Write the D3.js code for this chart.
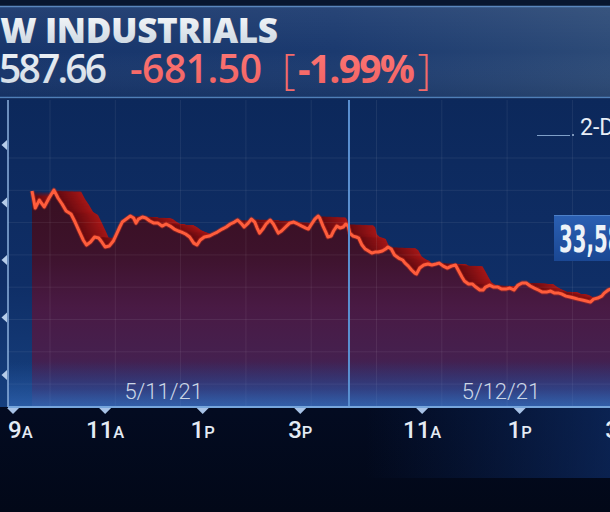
<!DOCTYPE html>
<html><head><meta charset="utf-8">
<script src="https://cdn.jsdelivr.net/npm/d3@7"></script>
<style>html,body{margin:0;padding:0;background:#030b22;overflow:hidden}</style>
</head><body>
<svg id="chart" width="610" height="512"></svg>
<script>
// ---------------- DATA ----------------
const title = "DOW INDUSTRIALS";
const lastValueText = "33,587.66";
const changeText = "-681.50";
const pctText = "-1.99%";
const rangeText = "2-DAY";
const dayLabels = ["5/11/21", "5/12/21"];
const dayLabelMinutes = [162, 187];           // minutes after the open where each date label sits
const tickDays  = [0, 0, 0, 0, 1, 1, 1];
const tickHours = [9, 11, 13, 15, 11, 13, 15];
const yTickValues = [35000, 34500, 34000, 33500, 33000];

// minutes after 9:30 open, index values
const day1Minutes = [0,4,9,15,21,27,32,37,42,48,53,58,63,67,72,77,82,85,90,95,100,104,108,111,116,121,125,128,131,136,140,145,150,155,160,165,170,175,180,184,189,194,199,203,207,212,218,223,228,234,239,244,249,253,258,261,266,270,274,277,280,284,288,293,297,301,303,307,312,317,322,327,332,337,340,344,348,352,354,358,362,364,368,371,375,379,383,386,389];
const day1Values  = [34600,34452,34521,34461,34539,34608,34539,34487,34426,34400,34330,34252,34174,34130,34156,34200,34191,34165,34113,34121,34165,34226,34287,34330,34356,34382,34365,34321,34356,34374,34365,34339,34321,34321,34295,34313,34295,34269,34252,34243,34226,34200,34147,34130,34174,34200,34208,34226,34243,34269,34287,34313,34330,34348,34313,34287,34321,34356,34330,34278,34234,34269,34313,34348,34313,34260,34234,34252,34287,34321,34330,34313,34295,34278,34269,34313,34356,34382,34365,34295,34234,34200,34208,34252,34295,34278,34287,34313,34295];
const day2Minutes = [1,5,9,12,16,20,24,28,32,36,41,45,48,52,56,61,66,69,73,77,81,83,87,92,97,102,107,111,116,121,126,131,135,139,142,147,152,156,161,165,168,173,178,183,188,193,198,203,208,213,218,223,228,233,238,243,248,253,258,262,267,272,277,282,287,292,297,301,306,311,314,319,322];
const day2Values  = [34234,34208,34200,34191,34130,34095,34078,34060,34069,34069,34078,34095,34113,34095,34043,34017,34000,33973,33947,33913,33886,33878,33930,33956,33965,33956,33965,33973,33947,33930,33947,33956,33904,33852,33817,33791,33791,33765,33739,33739,33765,33782,33765,33765,33747,33747,33756,33739,33782,33800,33800,33774,33756,33739,33721,33721,33730,33712,33712,33704,33686,33678,33669,33660,33652,33643,33634,33660,33669,33686,33712,33739,33747];

// ---------------- SETUP ----------------
const W = 610, H = 512;
const P = {left: 8, right: 610, top: 100, bottom: 407};
const svg = d3.select("#chart");
const defs = svg.append("defs");

const SESSION = 390;
const series = day1Minutes.map((m, i) => ({s: m, v: day1Values[i]}))
  .concat(day2Minutes.map((m, i) => ({s: SESSION + m, v: day2Values[i]})));

const x = d3.scaleLinear().domain([0, 2 * SESSION]).range([32, 32 + 2 * SESSION * 0.8128]);
const y = d3.scaleLinear().domain([33000, 35000]).range([375, 145]);

function lin(id, x1, y1, x2, y2, stops, units) {
  const g = defs.append("linearGradient").attr("id", id)
    .attr("x1", x1).attr("y1", y1).attr("x2", x2).attr("y2", y2);
  if (units) g.attr("gradientUnits", units);
  stops.forEach(s => g.append("stop").attr("offset", s[0]).attr("stop-color", s[1]).attr("stop-opacity", s[2] == null ? 1 : s[2]));
}

// gradients
lin("gBottom", 0, 0, 0, 1, [[0, "#0c2150"], [0.35, "#0a1c47"], [0.6, "#040e2a"], [1, "#020818"]]);
lin("gBottomSide", 0, 0, 1, 0, [[0, "#000000", 0], [0.6, "#0c2a66", 0], [1, "#103272", 0.6]]);
lin("gHeader", 0, 0, 1, 0, [[0, "#17356b"], [0.55, "#1b3a6f"], [1, "#2c4a77"]]);
lin("gHeaderV", 0, 0, 0, 1, [[0, "#ffffff", 0.06], [0.5, "#ffffff", 0], [1, "#000000", 0.08]]);
lin("gPlot", 0, 0, 0, 1, [[0, "#0c285b"], [0.6, "#0f2e66"], [1, "#16407f"]]);
lin("gArea", 0, 185, 0, 407, [[0, "#380f20"], [0.3, "#3d122b"], [0.55, "#491a44"], [0.78, "#45204f"], [0.92, "#302b66"], [1, "#2a4a8c"]], "userSpaceOnUse");
lin("gGlow", 0, 0, 0, 1, [[0, "#2a5fb0", 0], [1, "#3a72c4", 0.55]]);
lin("gTitle", 0, 0, 0, 1, [[0, "#ffffff"], [1, "#c3d0dc"]]);
lin("gNum", 0, 0, 0, 1, [[0, "#f4f7fa"], [1, "#ccd7e2"]]);
lin("gRed", 0, 0, 0, 1, [[0, "#ff7a78"], [1, "#f0605f"]]);
lin("gBox", 0, 0, 0, 1, [[0, "#2b60b3"], [1, "#1a4793"]]);

defs.append("clipPath").attr("id", "plotClip").append("rect")
  .attr("x", P.left).attr("y", P.top).attr("width", P.right - P.left).attr("height", P.bottom - P.top);

// ---------------- BACKGROUND ----------------
svg.append("rect").attr("width", W).attr("height", H).attr("fill", "url(#gBottom)");
svg.append("rect").attr("x", 0).attr("y", 408).attr("width", W).attr("height", 70).attr("fill", "url(#gBottomSide)");

// header
svg.append("rect").attr("x", 0).attr("y", 0).attr("width", W).attr("height", 6).attr("fill", "#08162f");
svg.append("rect").attr("x", 0).attr("y", 6).attr("width", W).attr("height", 92).attr("fill", "url(#gHeader)");
svg.append("rect").attr("x", 0).attr("y", 6).attr("width", W).attr("height", 92).attr("fill", "url(#gHeaderV)");
svg.append("line").attr("x1", 0).attr("x2", W).attr("y1", 6.5).attr("y2", 6.5).attr("stroke", "#5a86bd").attr("stroke-width", 1.5);
svg.append("line").attr("x1", 0).attr("x2", W).attr("y1", 97.5).attr("y2", 97.5).attr("stroke", "#4f7fb8").attr("stroke-width", 1.5);

// plot background
svg.append("rect").attr("x", 0).attr("y", 99).attr("width", W).attr("height", P.bottom - 99).attr("fill", "url(#gPlot)");

const plotG = svg.append("g").attr("clip-path", "url(#plotClip)");

// ---------------- MARKS ----------------
const area = d3.area().x(d => x(d.s)).y0(P.bottom).y1(d => y(d.v));
const line = d3.line().x(d => x(d.s)).y(d => y(d.v));

// 3D extrusion ribbon
const depth = 27;
const ribbonColor = d3.interpolateRgb("#5e0910", "#a41717");
d3.range(depth, 0, -1).forEach(k => {
  plotG.append("path").attr("d", area(series))
    .attr("transform", `translate(${k},${k * 0.04})`)
    .attr("fill", ribbonColor(k / depth));
});

plotG.append("path").attr("d", area(series)).attr("fill", "url(#gArea)");

// grid
const grid = plotG.append("g").attr("stroke", "#ffffff").attr("stroke-opacity", 0.07).attr("stroke-width", 1);
d3.range(158, P.bottom - 10, 32.3).forEach(gy => grid.append("line").attr("x1", P.left).attr("x2", P.right).attr("y1", gy).attr("y2", gy));
d3.range(50, P.right, 65.3).forEach(gx => grid.append("line").attr("y1", P.top).attr("y2", P.bottom).attr("x1", gx).attr("x2", gx));

// bottom glow
plotG.append("rect").attr("x", P.left).attr("y", 362).attr("width", P.right - P.left).attr("height", P.bottom - 362).attr("fill", "url(#gGlow)");

// price line
plotG.append("path").attr("d", line(series)).attr("fill", "none")
  .attr("stroke", "#c0301f").attr("stroke-width", 4.8).attr("stroke-opacity", 0.5).attr("stroke-linejoin", "round");
plotG.append("path").attr("d", line(series)).attr("fill", "none")
  .attr("stroke", "#ff5d3c").attr("stroke-width", 3).attr("stroke-linejoin", "round");

// day divider
svg.append("line").attr("x1", x(SESSION)).attr("x2", x(SESSION)).attr("y1", P.top).attr("y2", P.bottom)
  .attr("stroke", "#5a8fd0").attr("stroke-width", 2);

// date labels
svg.selectAll("text.date").data(dayLabels).join("text").attr("class", "date")
  .attr("x", (d, i) => x(i * SESSION + dayLabelMinutes[i])).attr("y", 399)
  .attr("text-anchor", "middle").attr("font-family", "Roboto").attr("font-weight", 300)
  .attr("font-size", 22).attr("fill", "#cbd6e6").text(d => d);

// axes
svg.append("line").attr("x1", P.left).attr("x2", P.left).attr("y1", P.top).attr("y2", P.bottom)
  .attr("stroke", "#8db1de").attr("stroke-width", 1.5);
svg.append("line").attr("x1", P.left).attr("x2", P.right).attr("y1", P.bottom).attr("y2", P.bottom)
  .attr("stroke", "#77a6dc").attr("stroke-width", 2);

svg.selectAll("path.ytri").data(yTickValues).join("path").attr("class", "ytri")
  .attr("transform", d => `translate(0,${y(d)})`)
  .attr("d", "M7,-5 L7,5 L1.5,0 Z").attr("fill", "#b6cdea");

const ticks = tickHours.map((h, i) => ({s: tickDays[i] * SESSION + (h - 9.5) * 60, h}));
svg.selectAll("path.xtri").data(ticks).join("path").attr("class", "xtri")
  .attr("transform", d => `translate(${Math.max(x(d.s), 13)},${P.bottom + 1})`)
  .attr("d", "M-6,0 L6,0 L0,6 Z").attr("fill", "#a7c2e6");

const tl = svg.selectAll("text.xtick").data(ticks).join("text").attr("class", "xtick")
  .attr("x", d => x(d.s)).attr("y", 438).attr("text-anchor", "middle")
  .attr("font-family", "Roboto").attr("font-weight", 500).attr("fill", "#e4ebf4");
tl.append("tspan").attr("font-size", 24).text(d => (d.h > 12 ? d.h - 12 : d.h));
tl.append("tspan").attr("font-size", 16.5).text(d => (d.h >= 12 ? "P" : "A"));
tl.each(function () {
  const b = this.getBBox();
  if (b.x < P.left) d3.select(this).attr("x", +d3.select(this).attr("x") + (P.left - b.x));
});

// range label
svg.append("line").attr("x1", 537).attr("x2", 570).attr("y1", 135.5).attr("y2", 135.5).attr("stroke", "#7f9fc8").attr("stroke-width", 1);
svg.append("circle").attr("cx", 573).attr("cy", 135).attr("r", 1).attr("fill", "#9fb8d8");
svg.append("text").attr("x", 580).attr("y", 135).attr("font-family", "Roboto").attr("font-size", 23)
  .attr("fill", "#e8eef6").text(rangeText);

// current value box
svg.append("rect").attr("x", 554).attr("y", 215).attr("width", 70).attr("height", 46).attr("fill", "url(#gBox)");
svg.append("line").attr("x1", 554).attr("x2", 610).attr("y1", 215.5).attr("y2", 215.5).attr("stroke", "#4d80c8").attr("stroke-width", 1);
const boxText = svg.append("text").attr("x", 0).attr("y", 0)
  .attr("font-family", "'DejaVu Sans'").attr("font-weight", 700)
  .attr("font-size", 37).attr("fill", "#eef3f8").text(lastValueText);
{
  const probe = svg.append("text").attr("font-family", "'DejaVu Sans'").attr("font-weight", 700)
    .attr("font-size", 37).text(lastValueText.slice(0, 2));
  const w2 = probe.node().getComputedTextLength();
  probe.remove();
  const sx = 27.5 / w2;
  boxText.attr("transform", `translate(559,252) scale(${sx},1)`);
}

// ---------------- HEADER TEXT ----------------
function fitSpacing(sel, sub, target) {
  const node = sel.node().cloneNode(false);
  node.textContent = sub;
  node.removeAttribute("letter-spacing");
  svg.node().appendChild(node);
  const w = node.getComputedTextLength();
  node.remove();
  const ls = (target - w) / Math.max(1, sub.length - 1);
  sel.attr("letter-spacing", ls);
  return ls;
}

const tTitle = svg.append("text").attr("x", 278).attr("y", 43).attr("text-anchor", "end")
  .attr("font-family", "'Open Sans'").attr("font-weight", 800).attr("font-size", 35)
  .attr("fill", "url(#gTitle)").text(title);
let ls = fitSpacing(tTitle, "INDUSTRIALS", 233);
tTitle.attr("x", 278 + ls);

const tVal = svg.append("text").attr("x", 107).attr("y", 83).attr("text-anchor", "end")
  .attr("font-family", "'Open Sans'").attr("font-weight", 600).attr("font-size", 39)
  .attr("fill", "url(#gNum)").text(lastValueText);
ls = fitSpacing(tVal, "587.66", 108);
tVal.attr("x", 107 + ls);

const tChg = svg.append("text").attr("x", 130).attr("y", 83)
  .attr("font-family", "'Open Sans'").attr("font-weight", 600).attr("font-size", 39)
  .attr("fill", "url(#gRed)").text(changeText);
fitSpacing(tChg, changeText, 132);

svg.append("text").attr("x", 282).attr("y", 84).attr("font-family", "'Open Sans'").attr("font-weight", 300)
  .attr("font-size", 42).attr("fill", "#f26a6a").text("[");
const tPct = svg.append("text").attr("x", 298).attr("y", 83)
  .attr("font-family", "'Open Sans'").attr("font-weight", 700).attr("font-size", 39)
  .attr("fill", "url(#gRed)").text(pctText);
fitSpacing(tPct, pctText, 117);
svg.append("text").attr("x", 431).attr("y", 84).attr("text-anchor", "end").attr("font-family", "'Open Sans'").attr("font-weight", 300)
  .attr("font-size", 42).attr("fill", "#f26a6a").text("]");
</script>
</body></html>
